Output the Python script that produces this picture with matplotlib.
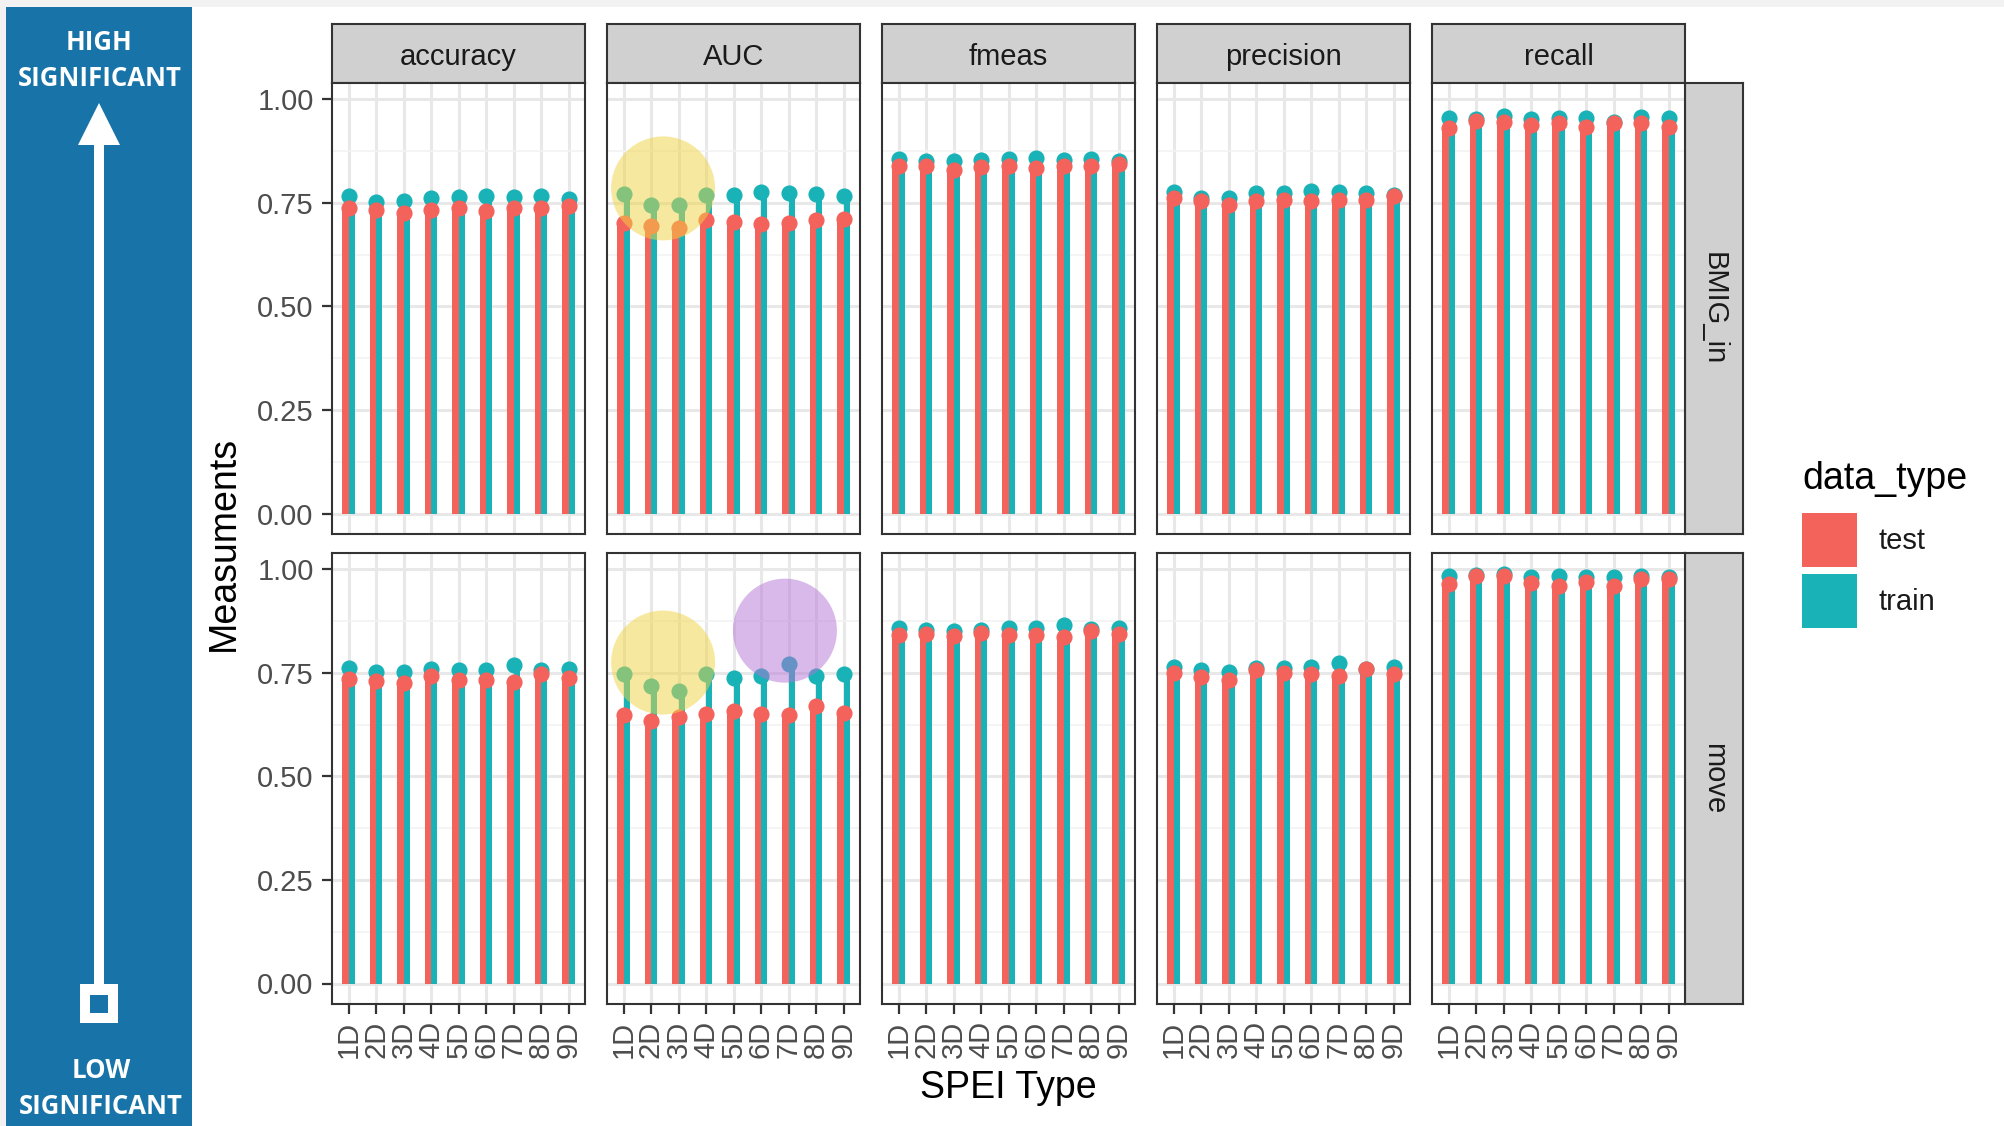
import numpy as np
import matplotlib.pyplot as plt
from matplotlib.patches import Rectangle, Polygon, Ellipse

plt.rcParams['font.family'] = ['Liberation Sans', 'DejaVu Sans']

# lollipop values per metric and site (test / train)
categories = ['1D', '2D', '3D', '4D', '5D', '6D', '7D', '8D', '9D']
metrics = ['accuracy', 'AUC', 'fmeas', 'precision', 'recall']
groups = ['BMIG_in', 'move']
data_types = ['test', 'train']

bmig_accuracy_test = [0.738, 0.734, 0.726, 0.734, 0.738, 0.730, 0.738, 0.738, 0.742]
bmig_accuracy_train = [0.766, 0.752, 0.754, 0.762, 0.764, 0.766, 0.765, 0.766, 0.760]
bmig_auc_test = [0.702, 0.694, 0.690, 0.708, 0.703, 0.700, 0.702, 0.708, 0.710]
bmig_auc_train = [0.771, 0.746, 0.746, 0.768, 0.768, 0.776, 0.774, 0.771, 0.766]
bmig_fmeas_test = [0.838, 0.840, 0.830, 0.836, 0.840, 0.834, 0.840, 0.840, 0.844]
bmig_fmeas_train = [0.856, 0.850, 0.850, 0.854, 0.856, 0.858, 0.854, 0.856, 0.852]
bmig_precision_test = [0.762, 0.754, 0.744, 0.754, 0.758, 0.754, 0.756, 0.758, 0.766]
bmig_precision_train = [0.776, 0.762, 0.762, 0.774, 0.774, 0.778, 0.776, 0.774, 0.768]
bmig_recall_test = [0.932, 0.948, 0.945, 0.937, 0.942, 0.934, 0.942, 0.942, 0.934]
bmig_recall_train = [0.956, 0.953, 0.960, 0.953, 0.954, 0.956, 0.946, 0.958, 0.954]

move_accuracy_test = [0.735, 0.731, 0.726, 0.742, 0.733, 0.733, 0.728, 0.748, 0.737]
move_accuracy_train = [0.762, 0.752, 0.751, 0.760, 0.758, 0.758, 0.770, 0.758, 0.760]
move_auc_test = [0.648, 0.635, 0.644, 0.650, 0.657, 0.651, 0.648, 0.669, 0.654]
move_auc_train = [0.747, 0.719, 0.707, 0.747, 0.738, 0.742, 0.772, 0.742, 0.747]
move_fmeas_test = [0.841, 0.843, 0.838, 0.846, 0.841, 0.841, 0.837, 0.850, 0.843]
move_fmeas_train = [0.858, 0.854, 0.850, 0.854, 0.858, 0.858, 0.866, 0.856, 0.858]
move_precision_test = [0.750, 0.739, 0.734, 0.756, 0.750, 0.747, 0.742, 0.760, 0.747]
move_precision_train = [0.764, 0.756, 0.751, 0.762, 0.762, 0.764, 0.773, 0.760, 0.764]
move_recall_test = [0.964, 0.983, 0.983, 0.967, 0.961, 0.970, 0.961, 0.976, 0.976]
move_recall_train = [0.983, 0.987, 0.990, 0.981, 0.983, 0.981, 0.981, 0.983, 0.981]

values = {
    ('BMIG_in', 'accuracy'): (bmig_accuracy_test, bmig_accuracy_train),
    ('BMIG_in', 'AUC'): (bmig_auc_test, bmig_auc_train),
    ('BMIG_in', 'fmeas'): (bmig_fmeas_test, bmig_fmeas_train),
    ('BMIG_in', 'precision'): (bmig_precision_test, bmig_precision_train),
    ('BMIG_in', 'recall'): (bmig_recall_test, bmig_recall_train),
    ('move', 'accuracy'): (move_accuracy_test, move_accuracy_train),
    ('move', 'AUC'): (move_auc_test, move_auc_train),
    ('move', 'fmeas'): (move_fmeas_test, move_fmeas_train),
    ('move', 'precision'): (move_precision_test, move_precision_train),
    ('move', 'recall'): (move_recall_test, move_recall_train),
}

# highlighted spots on the AUC facets (row, x, y, colour)
hl_rows = [0, 1, 1]
hl_x = [2.44, 2.44, 6.87]
hl_y = [0.785, 0.775, 0.852]
hl_colors = ['#f1d341', '#f1d341', '#b573d7']

RED = '#F4625C'
TEAL = '#19B2B6'
BLUE = '#1874a8'
W, H = 2004, 1126

fig = plt.figure(figsize=(W / 100, H / 100), dpi=100)


def px_axes(x, y, w, h):
    return fig.add_axes([x / W, 1 - (y + h) / H, w / W, h / H])


# background layer: side banner and legend keys, in pixel units
deco = px_axes(0, 0, W, H)
deco.set_xlim(0, W)
deco.set_ylim(H, 0)
deco.axis('off')
deco.set_zorder(0)
deco.add_patch(Rectangle((0, 0), W, 7, color='#f2f2f2', lw=0))
deco.add_patch(Rectangle((0, 0), 6, H, color='#f2f2f2', lw=0))
deco.add_patch(Rectangle((6, 7), 186, H - 7, color=BLUE, lw=0))
deco.add_patch(Rectangle((94, 140), 10, 845, color='white', lw=0))
deco.add_patch(Polygon([(99, 103), (78, 145), (120, 145)], color='white', lw=0))
deco.add_patch(Rectangle((80, 984), 38, 39, color='white', lw=0))
deco.add_patch(Rectangle((90, 995), 18, 18, color=BLUE, lw=0))
banner_font = dict(family=['Open Sans', 'DejaVu Sans'], weight='bold', color='white',
                   fontsize=18.5, ha='center', va='center')
deco.text(99, 43, 'HIGH', **banner_font)
deco.text(100, 78, 'SIGNIFICANT', **banner_font)
deco.text(101, 1070, 'LOW', **banner_font)
deco.text(101, 1106, 'SIGNIFICANT', **banner_font)

col_left = [332, 607, 882, 1157, 1432]
row_top = [83, 553]
pw, ph = 253, 451
x = np.arange(1, len(categories) + 1)
xlim = (0.4, len(categories) + 0.6)
ylim = (-0.0495, 1.0395)

for r, grp in enumerate(groups):
    for c, m in enumerate(metrics):
        test, train = values[(grp, m)]
        ax = px_axes(col_left[c], row_top[r], pw, ph)
        ax.set_zorder(1)
        ax.set_xlim(*xlim)
        ax.set_ylim(*ylim)
        ax.set_xticks(x)
        ax.set_yticks([0, 0.25, 0.5, 0.75, 1.0])
        ax.set_yticks([0.125, 0.375, 0.625, 0.875], minor=True)
        ax.grid(which='major', color='#e8e8e8', lw=2.2)
        ax.grid(which='minor', axis='y', color='#f2f2f2', lw=1.2)
        ax.set_axisbelow(True)

        ax.bar(x - 0.115, test, width=0.23, color=RED, zorder=2)
        ax.bar(x + 0.115, train, width=0.23, color=TEAL, zorder=2)
        ax.scatter(x, train, s=135, color=TEAL, linewidths=0, zorder=3)
        ax.scatter(x, test, s=135, color=RED, linewidths=0, zorder=4)

        if m == 'AUC':
            rx = 52 / (pw / (xlim[1] - xlim[0]))
            ry = 52 / (ph / (ylim[1] - ylim[0]))
            for hr, hx, hy, hc in zip(hl_rows, hl_x, hl_y, hl_colors):
                if hr == r:
                    ax.add_patch(Ellipse((hx, hy), 2 * rx, 2 * ry, color=hc,
                                         alpha=0.5, lw=0, zorder=5))

        for s in ax.spines.values():
            s.set_color('#333333')
            s.set_linewidth(1.5)
        ax.tick_params(which='minor', length=0)
        ax.tick_params(which='major', color='#333333', width=1.6, length=7.2,
                       labelcolor='#4d4d4d', labelsize=21)
        ax.tick_params(axis='y', pad=6)
        ax.tick_params(axis='x', pad=5)
        if c == 0:
            ax.set_yticklabels(['0.00', '0.25', '0.50', '0.75', '1.00'])
        else:
            ax.tick_params(axis='y', left=False, labelleft=False)
        if r == len(groups) - 1:
            ax.set_xticklabels(categories, rotation=90)
        else:
            ax.tick_params(axis='x', bottom=False, labelbottom=False)

# facet strips
def strip(x0, y0, w, h, label, rot):
    s = px_axes(x0, y0, w, h)
    s.set_facecolor('#d0d0d0')
    s.set_xticks([])
    s.set_yticks([])
    for sp in s.spines.values():
        sp.set_color('#333333')
        sp.set_linewidth(1.5)
    if rot == 0:
        s.text(0.5, 0.31, label, ha='center', va='baseline',
               fontsize=21, color='#1a1a1a', transform=s.transAxes)
    else:
        s.text(0.5, 0.5, label, rotation=rot, ha='center', va='center',
               fontsize=21, color='#1a1a1a', transform=s.transAxes)

for c, m in enumerate(metrics):
    strip(col_left[c], 24, pw, 59, m, 0)
for r, grp in enumerate(groups):
    strip(col_left[-1] + pw, row_top[r], 58, ph, grp, -90)

# axis titles
fig.text(224 / W, 1 - 543 / H, 'Measuments', rotation=90, ha='center', va='center',
         fontsize=27, color='black')
fig.text(1008 / W, 1 - 1088 / H, 'SPEI Type', ha='center', va='center',
         fontsize=27, color='black')

# legend
fig.text(1802 / W, 1 - 479 / H, 'data_type', ha='left', va='center', fontsize=27)
key_colors = [RED, TEAL]
for i, (lab, kc) in enumerate(zip(data_types, key_colors)):
    top = 513 + i * 61
    deco.add_patch(Rectangle((1802, top), 55, 54, color=kc, lw=0))
    deco.text(1879, top + 28, lab, ha='left', va='center', fontsize=21, color='#1a1a1a')

fig.savefig('out.png', dpi=100)
